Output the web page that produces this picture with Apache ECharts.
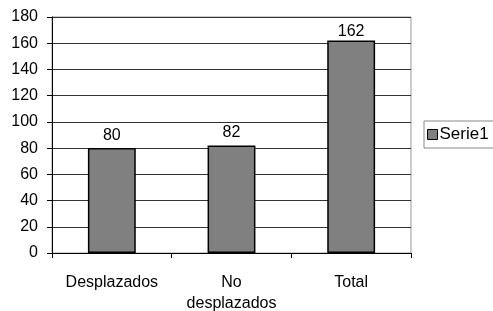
<!DOCTYPE html>
<html>
<head>
<meta charset="utf-8">
<style>
  html, body { margin: 0; padding: 0; background: #fff; }
  #chart { width: 493px; height: 311px; }
</style>
<script src="https://cdn.jsdelivr.net/npm/echarts@6/dist/echarts.min.js"></script>
</head>
<body>
<div id="chart"></div>
<script>
// data
const categories = ['Desplazados', 'No\ndesplazados', 'Total']
const serie1 = [80, 82, 162]
const seriesName = 'Serie1'

const font = 'Liberation Sans, Arial, sans-serif'
const chart = echarts.init(document.getElementById('chart'))
chart.setOption({
  animation: false,
  textStyle: { fontFamily: font },
  grid: {
    left: 52,
    right: 82,
    top: 17,
    bottom: 58,
    outerBoundsMode: 'none',
    containLabel: false,
    show: true,
    borderColor: '#999',
    borderWidth: 1,
    backgroundColor: '#fff'
  },
  legend: {
    data: [seriesName],
    left: 424,
    top: 121,
    orient: 'vertical',
    padding: [5, 20, 5, 3],
    borderColor: '#888',
    borderWidth: 1,
    icon: 'rect',
    itemWidth: 10,
    itemHeight: 10,
    itemGap: 4,
    textStyle: { fontSize: 17, color: '#000', padding: [0, 0, 0, -3] },
    itemStyle: { borderColor: '#000', borderWidth: 1 }
  },
  xAxis: {
    type: 'category',
    data: categories,
    boundaryGap: true,
    axisLine: { lineStyle: { color: '#000', width: 1 } },
    axisTick: { show: true, length: 5, interval: 0, lineStyle: { color: '#000' } },
    axisLabel: {
      color: '#000',
      fontSize: 16,
      margin: 19,
      lineHeight: 21,
      interval: 0
    },
    splitLine: { show: false }
  },
  yAxis: {
    type: 'value',
    min: 0,
    max: 180,
    interval: 20,
    axisLine: { show: true, lineStyle: { color: '#000', width: 1 } },
    axisTick: { show: true, length: 5, lineStyle: { color: '#000' } },
    axisLabel: { color: '#000', fontSize: 16, margin: 14 },
    splitLine: { show: true, lineStyle: { color: '#333', width: 1 } }
  },
  series: [{
    name: seriesName,
    type: 'bar',
    // the top label sits closer to its bar, as in the reference
    data: serie1.map((v, i) => i === 2 ? { value: v, label: { distance: 1 } } : v),
    barWidth: '40%',
    itemStyle: { color: '#808080', borderColor: '#000', borderWidth: 1.5 },
    label: {
      show: true,
      position: 'top',
      distance: 5,
      color: '#000',
      fontSize: 16
    }
  }]
})
</script>
</body>
</html>
